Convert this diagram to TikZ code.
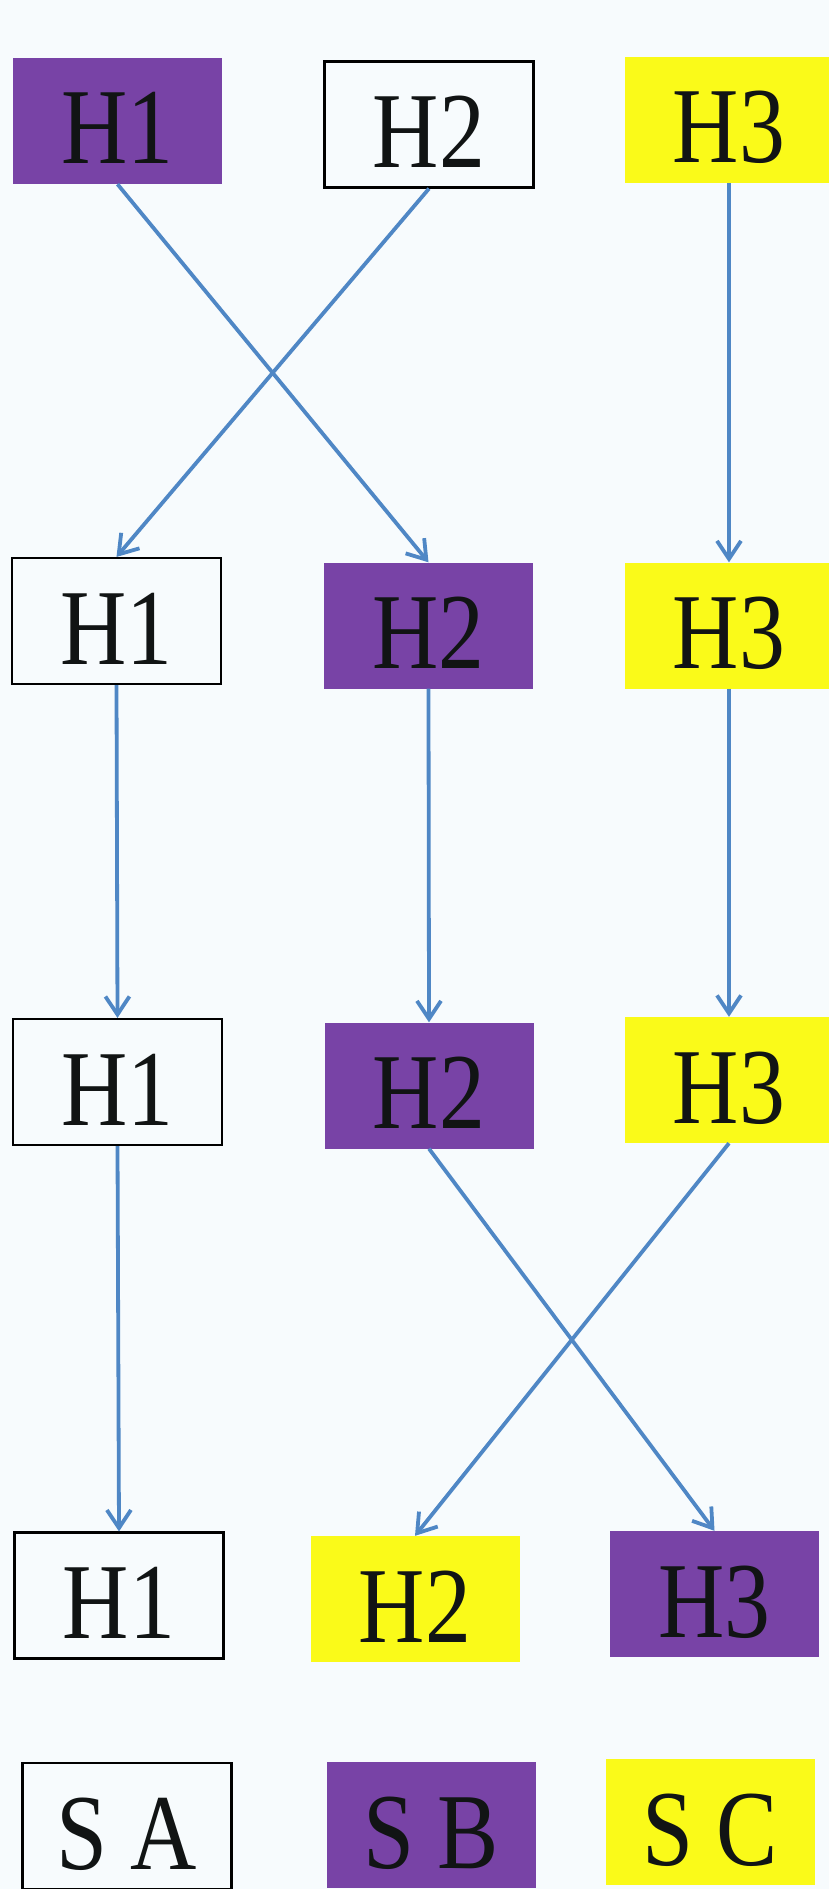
\documentclass[tikz,border=0pt]{standalone}
\usepackage{fontspec}
\setmainfont{Liberation Serif}[FakeStretch=0.85]
\usetikzlibrary{arrows.meta}

\definecolor{bgcol}{HTML}{F7FBFD}
\definecolor{hpurple}{HTML}{7843A6}
\definecolor{hyellow}{HTML}{FAFA19}
\definecolor{hblue}{HTML}{4F87C5}
\definecolor{htext}{HTML}{111414}

\begin{document}
\begin{tikzpicture}[x=1pt, y=-1pt,
    hbox/.style={minimum width=209pt, minimum height=126pt, inner sep=0pt,
      text height=86pt, text depth=0pt,
      text=htext, font=\fontsize{108}{110}\selectfont},
    plainbox/.style={hbox, draw=black, line width=2.2pt, fill=bgcol},
    purplebox/.style={hbox, fill=hpurple},
    yellowbox/.style={hbox, fill=hyellow},
    move/.style={hblue, line width=3.8pt, -{Straight Barb[length=18pt, width=24pt]}}]
      \fill[bgcol] (0,0) rectangle (829,1889);
      \useasboundingbox (0,0) rectangle (829,1889);

      % Row 1
      \node[purplebox] (a1) at (117.5,121) {H1};
      \node[plainbox] (b1) at (429,124.5) {H2};
      \node[yellowbox] (c1) at (729,120) {H3};

      % Row 2
      \node[plainbox] (a2) at (116.5,621) {H1};
      \node[purplebox] (b2) at (428.5,625.5) {H2};
      \node[yellowbox] (c2) at (729,625.5) {H3};

      % Row 3
      \node[plainbox] (a3) at (117.5,1082) {H1};
      \node[purplebox] (b3) at (429,1085.5) {H2};
      \node[yellowbox] (c3) at (729,1080) {H3};

      % Row 4
      \node[plainbox] (a4) at (119,1595.5) {H1};
      \node[yellowbox] (b4) at (415,1599) {H2};
      \node[purplebox] (c4) at (714.5,1594) {H3};

      % Legend
      \node[plainbox] (sa) at (127,1826) {S A};
      \node[purplebox] (sb) at (431,1825) {S B};
      \node[yellowbox] (sc) at (710,1822) {S C};

      % Swaps between rows
      \draw[move] (a1.south) -- (b2.north);
      \draw[move] (b1.south) -- (a2.north);
      \draw[move] (c1.south) -- (c2.north);

      \draw[move] (a2.south) -- (a3.north);
      \draw[move] (b2.south) -- (b3.north);
      \draw[move] (c2.south) -- (c3.north);

      \draw[move] (a3.south) -- (a4.north);
      \draw[move] (b3.south) -- (c4.north);
      \draw[move] (c3.south) -- (b4.north);
    \end{tikzpicture}
\end{document}
